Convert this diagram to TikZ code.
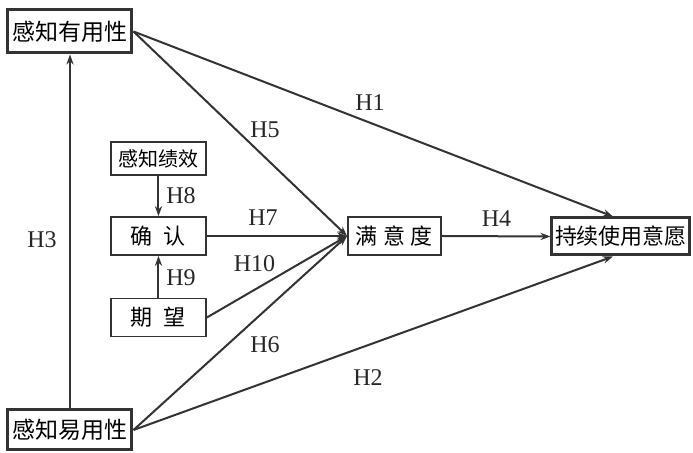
\documentclass[tikz,border=0pt]{standalone}
\usepackage{fontspec}
\setmainfont{Liberation Serif}
\newfontfamily\cjk{Noto Sans CJK SC}
\usetikzlibrary{arrows.meta}
\definecolor{lineGray}{HTML}{333333}

\begin{document}
\begin{tikzpicture}[x=0.5pt,y=-0.5pt,
    box/.style={draw=lineGray, line width=0.9pt, inner sep=0pt, minimum height=19pt,
      font=\cjk\fontsize{11}{13}\selectfont},
    mainbox/.style={box, line width=1.5pt, font=\cjk\fontsize{11.5}{13}\selectfont},
    link/.style={draw=lineGray, line width=1pt, -{Stealth[length=5pt,width=3.6pt]}},
    lab/.style={font=\fontsize{12}{14}\selectfont, text=black!85}]
  \useasboundingbox (0,0) rectangle (693,453);

  % Boxes
  \node[mainbox, minimum width=62pt, minimum height=21.5pt] (pu) at (70,31.5) {感知有用性};
  \node[mainbox, minimum width=62pt, minimum height=20pt] (peou) at (70,430) {感知易用性};
  \node[box, minimum width=47.5pt, minimum height=16.5pt, font=\cjk\fontsize{10}{12}\selectfont] (pp) at (158.5,158.5) {感知绩效};
  \node[box, minimum width=47.5pt] (conf) at (158.5,236) {确\hspace{0.5em}认};
  \node[box, minimum width=47.5pt] (expc) at (158.5,317.5) {期\hspace{0.5em}望};
  \node[box, minimum width=46.5pt] (sat) at (394.5,236) {满\hspace{0.25em}意\hspace{0.25em}度};
  \node[mainbox, minimum width=69pt, minimum height=18.5pt, font=\cjk\fontsize{11}{13}\selectfont] (ci) at (621,236.5) {持续使用意愿};

  % Paths
  \draw[link] (pu.east) -- ([xshift=-4pt]ci.north);
  \draw[link] (pu.east) -- (sat.west);
  \draw[link] (peou.north) -- (pu.south);
  \draw[link] (pp.south) -- (conf.north);
  \draw[link] (expc.north) -- (conf.south);
  \draw[link] (conf.east) -- (sat.west);
  \draw[link] (expc.east) -- (sat.west);
  \draw[link] (peou.east) -- (sat.west);
  \draw[link] (peou.east) -- ([xshift=-4pt]ci.south);
  \draw[link] (sat.east) -- (ci.west);

  % Labels
  \node[lab] (h1) at (370,103) {H1};
  \node[lab] (h2) at (368,378) {H2};
  \node[lab] (h3) at (42,240) {H3};
  \node[lab] (h4) at (496.5,218.5) {H4};
  \node[lab] (h5) at (265,130) {H5};
  \node[lab] (h6) at (265,345) {H6};
  \node[lab] (h7) at (263,218) {H7};
  \node[lab] (h8) at (181,196) {H8};
  \node[lab] (h9) at (181,278) {H9};
  \node[lab] (h10) at (254.5,264) {H10};
\end{tikzpicture}
\end{document}
